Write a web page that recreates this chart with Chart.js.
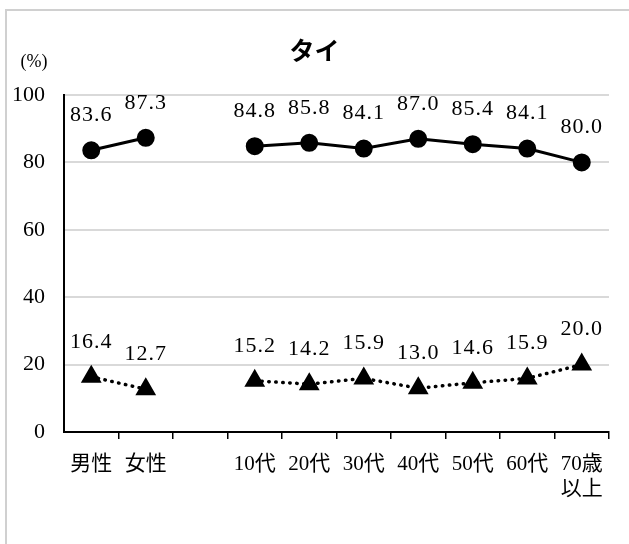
<!DOCTYPE html>
<html>
<head>
<meta charset="utf-8">
<script src="https://cdn.jsdelivr.net/npm/chart.js@4.4.1/dist/chart.umd.min.js"></script>
<style>
    body { margin: 0; background: #fff; }
    #wrap { position: relative; width: 629px; height: 544px; overflow: hidden; }
    #frame { position: absolute; left: 5px; top: 9px; width: 640px; height: 560px; border: 2px solid #d0d0d0; }
    #chart { position: absolute; left: 0; top: 0; }
</style>
</head>
<body>
<div id="wrap">
    <div id="frame"></div>
    <canvas id="chart" width="629" height="544"></canvas>
</div>
<script>
const categories = ["男性", "女性", "", "10代", "20代", "30代", "40代", "50代", "60代", ["70歳", "以上"]];
const upperValues = [83.6, 87.3, null, 84.8, 85.8, 84.1, 87.0, 85.4, 84.1, 80.0];
const lowerValues = [16.4, 12.7, null, 15.2, 14.2, 15.9, 13.0, 14.6, 15.9, 20.0];
const yTicks = [0, 20, 40, 60, 80, 100];

const serif = "'Liberation Serif', 'Noto Sans CJK JP', serif";
const gothic = "'Noto Sans CJK JP', sans-serif";

// value labels above each point, plus title and unit
const labelPlugin = {
    id: "labels",
    afterDatasetsDraw(chart) {
        const ctx = chart.ctx;
        ctx.save();
        ctx.fillStyle = "#000";
        ctx.font = "22px " + serif;
        ctx.letterSpacing = "1px";
        ctx.textAlign = "center";
        ctx.textBaseline = "middle";
        chart.data.datasets.forEach((ds, i) => {
            chart.getDatasetMeta(i).data.forEach((pt, j) => {
                const v = ds.data[j];
                if (v === null) return;
                ctx.fillText(v.toFixed(1), pt.x, pt.y - 35);
            });
        });
        ctx.restore();
    },
    afterDraw(chart) {
        const ctx = chart.ctx;
        ctx.save();
        ctx.fillStyle = "#000";
        ctx.textAlign = "center";
        ctx.textBaseline = "middle";
        ctx.font = "bold 25px " + gothic;
        ctx.fillText("タイ", chart.width / 2, 50);
        ctx.font = "18px " + serif;
        ctx.fillText("(%)", chart.chartArea.left - 30, 62);
        ctx.restore();
    }
};

new Chart(document.getElementById("chart").getContext("2d"), {
    type: "line",
    data: {
        labels: categories,
        datasets: [
            {
                data: upperValues,
                borderColor: "#000",
                backgroundColor: "#000",
                borderWidth: 3,
                pointStyle: "circle",
                pointRadius: 7.5,
                pointHoverRadius: 7.5,
                spanGaps: false
            },
            {
                data: lowerValues,
                borderColor: "#000",
                backgroundColor: "#000",
                borderWidth: 3.5,
                borderDash: [0.5, 6.5],
                borderCapStyle: "round",
                pointStyle: "triangle",
                pointRadius: 8.5,
                pointHoverRadius: 8.5,
                spanGaps: false
            }
        ]
    },
    options: {
        responsive: false,
        animation: false,
        layout: { padding: { left: 0, right: 20, top: 95, bottom: 0 } },
        plugins: {
            legend: { display: false },
            tooltip: { enabled: false }
        },
        scales: {
            x: {
                offset: true,
                grid: {
                    offset: true,
                    drawOnChartArea: false,
                    tickLength: 7,
                    color: c => c.index === 0 ? "rgba(0,0,0,0)" : "#000",
                    lineWidth: 1.5
                },
                border: { color: "#000", width: 2 },
                ticks: {
                    color: "#000",
                    font: { family: serif, size: 21 },
                    padding: 13,
                    maxRotation: 0,
                    autoSkip: false
                },
                afterFit: s => { s.height = 544 - 95 - 337; }
            },
            y: {
                min: 0,
                max: 100,
                afterBuildTicks: s => { s.ticks = yTicks.map(v => ({ value: v })); },
                grid: {
                    drawTicks: false,
                    color: c => c.tick && c.tick.value === 0 ? "rgba(0,0,0,0)" : "#d9d9d9",
                    lineWidth: 2
                },
                border: { color: "#000", width: 2 },
                ticks: {
                    color: "#000",
                    font: { family: serif, size: 22 },
                    padding: 19
                },
                afterFit: s => { s.width = 64; }
            }
        }
    },
    plugins: [labelPlugin]
});
</script>
</body>
</html>
